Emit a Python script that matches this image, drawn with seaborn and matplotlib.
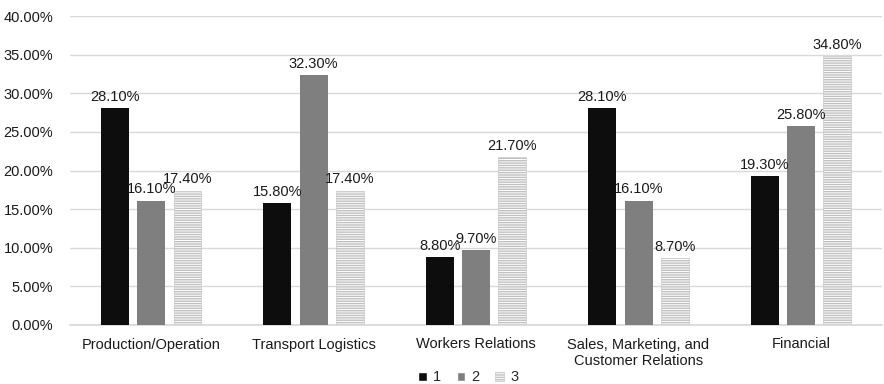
import matplotlib
matplotlib.use("Agg")
import matplotlib.pyplot as plt
import seaborn as sns
import pandas as pd
from matplotlib.patches import Patch
from matplotlib.ticker import PercentFormatter, MultipleLocator

categories = ["Production/Operation", "Transport Logistics", "Workers Relations",
              "Sales, Marketing, and\nCustomer Relations", "Financial"]
series_names = ["1", "2", "3"]
values_1 = [28.1, 15.8, 8.8, 28.1, 19.3]
values_2 = [16.1, 32.3, 9.7, 16.1, 25.8]
values_3 = [17.4, 17.4, 21.7, 8.7, 34.8]

rows = []
for name, vals in zip(series_names, [values_1, values_2, values_3]):
    for cat, v in zip(categories, vals):
        rows.append({"category": cat, "series": name, "value": v})
df = pd.DataFrame(rows)

sns.set_theme(style="white")
plt.rcParams["font.family"] = ["Liberation Sans", "DejaVu Sans"]
plt.rcParams["hatch.linewidth"] = 1.0
plt.rcParams["hatch.color"] = "#868686"

FS = 10.5
HATCH = "-------"

fig = plt.figure(figsize=(8.84, 3.84), dpi=100)
ax = fig.add_axes([70 / 884, 1 - 325 / 384, 1 - 70 / 884 - 0.002, (325 - 16) / 384])

palette = {"1": "#0d0d0d", "2": "#7f7f7f", "3": "#ffffff"}
sns.barplot(data=df, x="category", y="value", hue="series", order=categories,
            hue_order=series_names, palette=palette, width=0.67, gap=0.23,
            saturation=1, legend=False, ax=ax, zorder=3)

n = len(categories)
for i, patch in enumerate(ax.patches):
    s = i // n
    if s == 2:
        patch.set_hatch(HATCH)
        patch.set_edgecolor("#c0c0c0")
        patch.set_linewidth(0.4)
    else:
        patch.set_edgecolor("none")

for container in ax.containers:
    ax.bar_label(container, fmt="%.2f%%", padding=3, fontsize=FS, color="#1a1a1a")

ax.set_ylim(0, 40)
ax.yaxis.set_major_locator(MultipleLocator(5))
ax.yaxis.set_major_formatter(PercentFormatter(decimals=2))
ax.set_xlim(-0.5, n - 0.5)
ax.grid(axis="y", color="#d9d9d9", linewidth=1, zorder=0)
ax.set_axisbelow(True)
for side in ["top", "right", "left"]:
    ax.spines[side].set_visible(False)
ax.spines["bottom"].set_color("#d9d9d9")
ax.set_xlabel("")
ax.set_ylabel("")
ax.tick_params(axis="both", labelsize=FS, colors="#1a1a1a", length=0)
ax.tick_params(axis="x", pad=9)
ax.tick_params(axis="y", pad=12)

handles = [Patch(facecolor="#0d0d0d"), Patch(facecolor="#7f7f7f"),
           Patch(facecolor="white", hatch=HATCH, edgecolor="#c0c0c0", linewidth=0.4)]
fig.legend(handles, series_names, loc="lower center", ncol=3, frameon=False,
           bbox_to_anchor=(468 / 884, -0.035), fontsize=FS, handlelength=0.6, handleheight=0.6,
           handletextpad=0.4, columnspacing=1.1)

fig.savefig("out.png", dpi=100)
